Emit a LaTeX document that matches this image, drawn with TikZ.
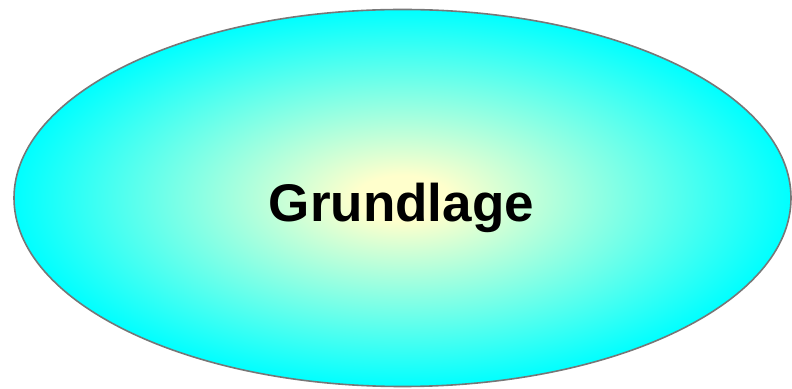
\documentclass[tikz,border=0pt]{standalone}
\usepackage{fontspec}
\setmainfont{Liberation Sans}
\usetikzlibrary{shapes.geometric}
\definecolor{centreyellow}{HTML}{FFFFCC}
\definecolor{edgecyan}{HTML}{00FFFF}
\definecolor{rimgray}{HTML}{777777}
\pgfdeclareradialshading{ellshade}{\pgfpointorigin}{color(0bp)=(centreyellow); color(3bp)=(centreyellow); color(25bp)=(edgecyan); color(50bp)=(edgecyan)}
\tikzset{
  blob/.style={ellipse, draw=rimgray, line width=1.6pt, shading=ellshade, inner sep=0pt,
               minimum width=777pt, minimum height=377pt},
  title/.style={font=\bfseries\fontsize{53}{60}\selectfont, text=black, inner sep=0pt}
}
\begin{document}
\begin{tikzpicture}[x=1pt,y=1pt]
  \useasboundingbox (0,0) rectangle (792,388);
  \node[blob] (e) at (402.5,190) {};
  \node[title, anchor=base] (t) at (401.5,166) {Grundlage};
\end{tikzpicture}
\end{document}
